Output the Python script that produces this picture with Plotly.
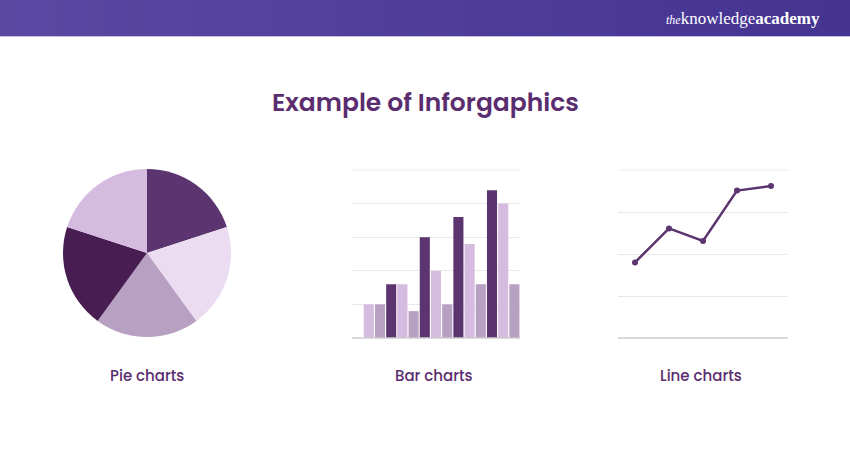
import plotly.graph_objects as go

W, H = 850, 450

# ---- data ----
pie_labels = ["Slice 1", "Slice 2", "Slice 3", "Slice 4", "Slice 5"]
pie_values = [1, 1, 1, 1, 1]
pie_colors = ["#5c3470", "#ecdcf2", "#b8a0c2", "#471d52", "#d5bbdf"]

bar_categories = ["G1", "G2", "G3", "G4", "G5"]
bar_dark = [None, 1.6, 3.0, 3.6, 4.4]
bar_light = [1.0, 1.6, 2.0, 2.8, 4.0]
bar_mauve = [1.0, 0.8, 1.0, 1.6, 1.6]

line_categories = ["P1", "P2", "P3", "P4", "P5"]
line_values = [1.80, 2.61, 2.31, 3.51, 3.62]

title_text = "Example of Inforgaphics"
chart_labels = ["Pie charts", "Bar charts", "Line charts"]

PURPLE_TEXT = "#5a2d6e"
DARK = "#5c3470"
LIGHT = "#d5bbdf"
MAUVE = "#b8a0c2"
GRID = "#e8e8e8"
BASE = "#cccccc"
FONT = "Poppins, 'Open Sans', sans-serif"


def px_x(x):
    return x / W


def px_y(y):
    return 1 - y / H


fig = go.Figure()

# pie
fig.add_trace(go.Pie(
    labels=pie_labels, values=pie_values, sort=False, direction="clockwise",
    rotation=0, marker=dict(colors=pie_colors, line=dict(width=0)),
    textinfo="none", hoverinfo="none", showlegend=False,
    domain=dict(x=[px_x(63), px_x(231)], y=[px_y(337), px_y(169)]),
))

# bars
for vals, col in [(bar_dark, DARK), (bar_light, LIGHT), (bar_mauve, MAUVE)]:
    fig.add_trace(go.Bar(x=bar_categories, y=vals, marker=dict(color=col, line=dict(width=0)),
                         xaxis="x", yaxis="y", showlegend=False, hoverinfo="none"))

# line
fig.add_trace(go.Scatter(x=line_categories, y=line_values, mode="lines+markers",
                         line=dict(color=DARK, width=2.5), marker=dict(color=DARK, size=6),
                         xaxis="x2", yaxis="y2", showlegend=False, hoverinfo="none"))

axis_common = dict(showticklabels=False, ticks="", showline=False, zeroline=False)

fig.update_layout(
    width=W, height=H, margin=dict(l=0, r=0, t=0, b=0),
    paper_bgcolor="white", plot_bgcolor="white",
    barmode="group", bargap=0.0, bargroupgap=0.1,
    xaxis=dict(domain=[px_x(352), px_x(520)], showgrid=False, **axis_common),
    yaxis=dict(domain=[px_y(338), px_y(170)], range=[0, 5], dtick=1, showgrid=True,
               gridcolor=GRID, gridwidth=1, **axis_common),
    xaxis2=dict(domain=[px_x(618), px_x(788)], range=[-0.5, 4.5], showgrid=False,
                anchor="y2", **axis_common),
    yaxis2=dict(domain=[px_y(338), px_y(170)], range=[0, 4], dtick=1, showgrid=True,
                gridcolor=GRID, gridwidth=1, anchor="x2", **axis_common),
)

# baselines and top gridlines
for x0, x1 in [(352, 520), (618, 788)]:
    fig.add_shape(type="line", xref="paper", yref="paper",
                  x0=px_x(x0), x1=px_x(x1), y0=px_y(338), y1=px_y(338),
                  line=dict(color=BASE, width=1.5))
    fig.add_shape(type="line", xref="paper", yref="paper",
                  x0=px_x(x0), x1=px_x(x1), y0=px_y(170), y1=px_y(170),
                  line=dict(color="#ececec", width=1), layer="below")

# header band with gradient strips
c0 = (0x5b, 0x48, 0xa3)
c1 = (0x45, 0x33, 0x92)
n = 40
for i in range(n):
    t = i / (n - 1)
    c = tuple(round(c0[k] + (c1[k] - c0[k]) * t) for k in range(3))
    fig.add_shape(type="rect", xref="paper", yref="paper",
                  x0=i / n, x1=(i + 1) / n + 0.002, y0=px_y(36), y1=1,
                  fillcolor="rgb(%d,%d,%d)" % c, line=dict(width=0), layer="below")
fig.add_shape(type="line", xref="paper", yref="paper", x0=0, x1=1,
              y0=px_y(36.5), y1=px_y(36.5), line=dict(color="#c9c0e0", width=1))

# logo
fig.add_annotation(xref="paper", yref="paper", x=px_x(822), y=px_y(18),
                   xanchor="right", yanchor="middle", showarrow=False,
                   text="<i><span style='font-size:12px'>the</span></i>knowledge<b>academy</b>",
                   font=dict(family="'Liberation Serif', serif", size=17, color="white"))

# title
fig.add_annotation(xref="paper", yref="paper", x=0.5, y=px_y(102),
                   xanchor="center", yanchor="middle", showarrow=False,
                   text=title_text,
                   font=dict(family=FONT, size=25, color=PURPLE_TEXT, weight=600))

# chart labels
for lab, cx in zip(chart_labels, [147, 434, 701]):
    fig.add_annotation(xref="paper", yref="paper", x=px_x(cx), y=px_y(375),
                       xanchor="center", yanchor="middle", showarrow=False,
                       text=lab, font=dict(family=FONT, size=15, color=PURPLE_TEXT, weight=500))

fig.write_html("out.html")
